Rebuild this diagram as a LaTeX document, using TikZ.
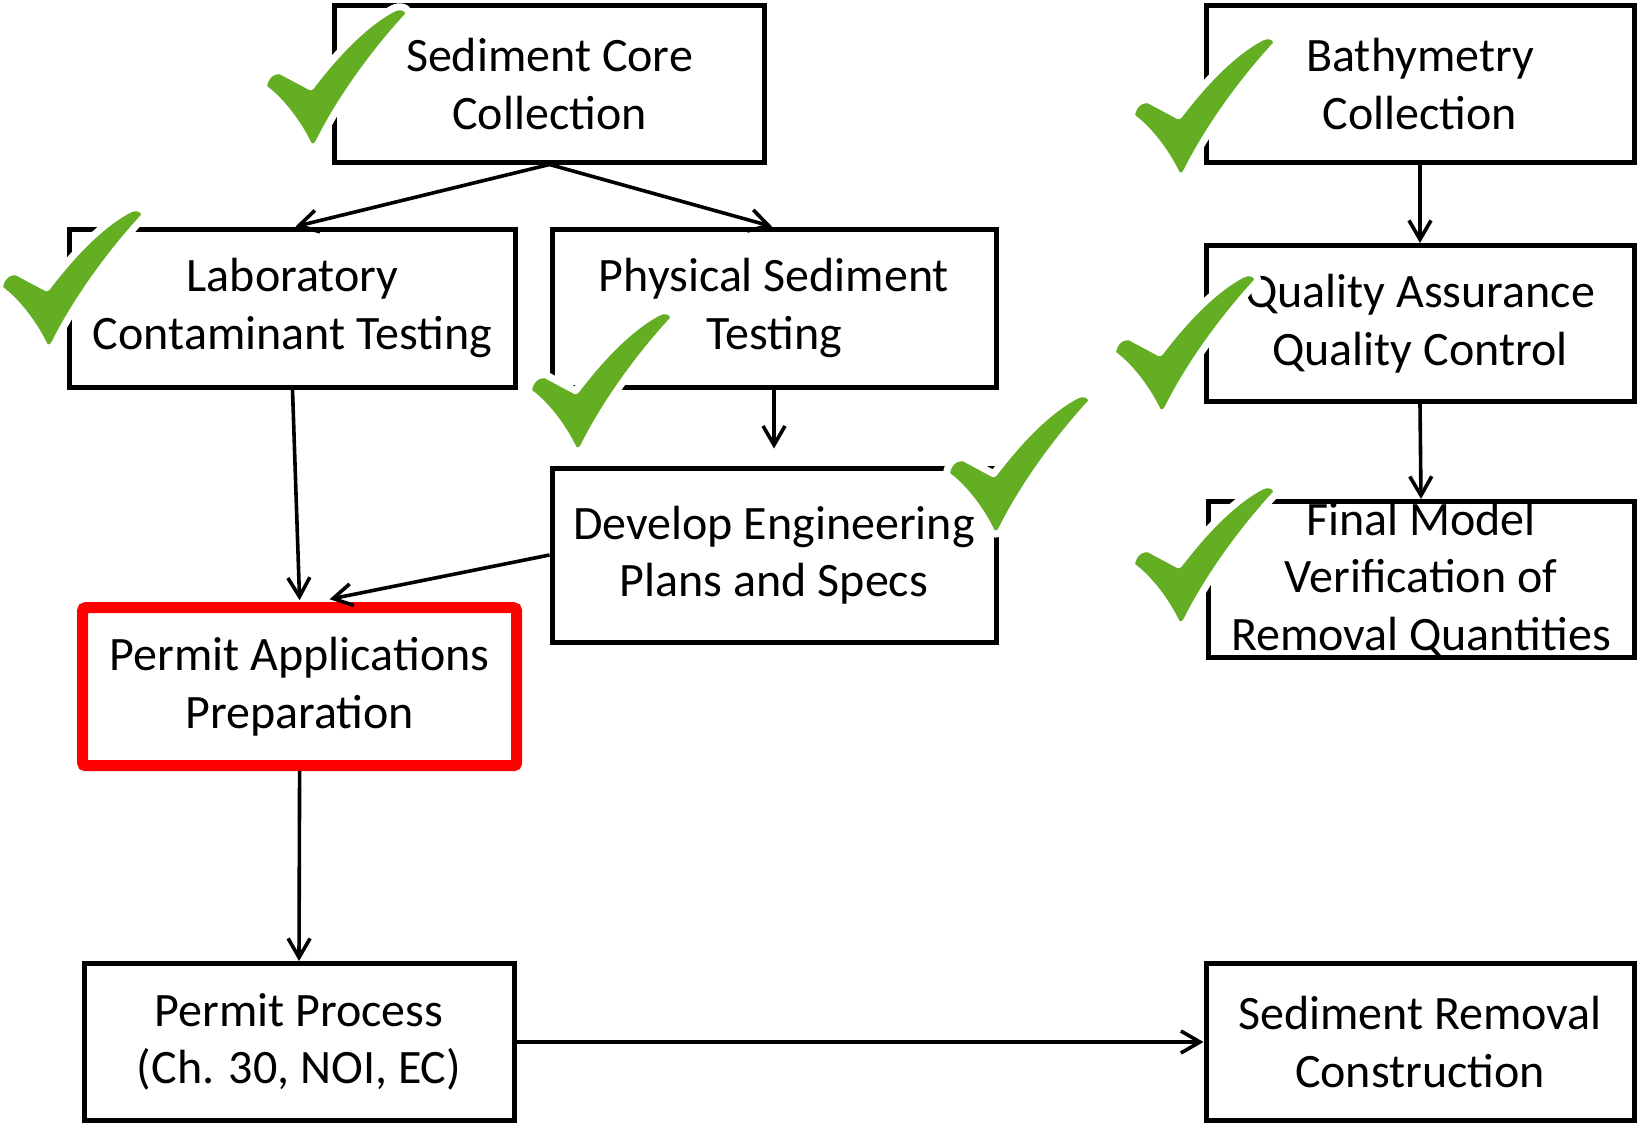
\documentclass[tikz,border=0pt]{standalone}
\usepackage{fontspec}
\setmainfont{Carlito}
\usetikzlibrary{arrows.meta}
\definecolor{chkgreen}{RGB}{99,174,35}
\definecolor{redbox}{RGB}{255,0,0}
\tikzset{
  box/.style={draw=black, line width=5pt, fill=white, inner sep=0pt, align=center,
    font=\fontsize{48}{57.5}\selectfont},
  redb/.style={box, draw=redbox, line width=11pt, rounded corners=3pt},
  conn/.style={line width=3.6pt, -{Straight Barb[length=19pt,width=22pt,line width=3.6pt]}},
  chk/.pic={
    \path[draw=white, line width=7pt, line join=round, fill=chkgreen]
      (0,76) .. controls (2,68) and (8,63) .. (16,64)
      -- (44,79)
      .. controls (70,45) and (95,20) .. (120,6)
      .. controls (128,1) and (138,4) .. (136,12)
      .. controls (110,40) and (75,85) .. (52,131)
      .. controls (50,137) and (43,138) .. (41,132)
      .. controls (30,110) and (15,92) .. (2,82)
      .. controls (-1,80) and (-1,78) .. (0,76) -- cycle;
  },
  chks/.style={scale=1.06}
}
\begin{document}
\begin{tikzpicture}[x=1pt, y=-1pt]
\useasboundingbox[fill=white] (0,0) rectangle (1639,1124);
% boxes
\node[box, minimum width=430pt, minimum height=156pt] (sc) at (549.5,84) {Sediment Core\\Collection};
\node[box, minimum width=428pt, minimum height=156pt] (bath) at (1420,84) {Bathymetry\\Collection};
\node[box, minimum width=446pt, minimum height=158pt] (lab) at (292.5,308) {Laboratory\\Contaminant Testing};
\node[box, minimum width=444pt, minimum height=158pt] (phys) at (774,308) {Physical Sediment\\Testing};
\node[box, minimum width=428pt, minimum height=156pt] (qa) at (1420,323.5) {Quality Assurance\\Quality Control};
\node[box, minimum width=444pt, minimum height=174pt] (dev) at (774,555) {Develop Engineering\\Plans and Specs};
\node[box, minimum width=426pt, minimum height=156pt] (final) at (1421,579.5) {Final Model\\Verification of\\Removal Quantities};
\node[redb, minimum width=434pt, minimum height=158pt] (papp) at (299.6,686.7) {Permit Applications\\Preparation};
\node[box, minimum width=430pt, minimum height=157pt] (pproc) at (299,1042) {Permit Process\\(Ch. 30, NOI, EC)};
\node[box, minimum width=428pt, minimum height=157pt] (srem) at (1420,1042) {Sediment Removal\\Construction};
% connectors
\draw[conn] (sc.south) -- ([xshift=3pt]lab.north);
\draw[conn] (sc.south) -- ([xshift=-2pt]phys.north);
\draw[conn] (phys.south) -- ([yshift=17pt]dev.north);
\draw[conn] (lab.south) -- ([yshift=2pt]papp.north);
\draw[conn] (dev.west) -- ([xshift=30pt,yshift=3pt]papp.north);
\draw[conn] (bath.south) -- (qa.north);
\draw[conn] (qa.south) -- (final.north);
\draw[conn] (papp.south) -- (pproc.north);
\draw[conn] (pproc.east) -- (srem.west);
% check marks
\pic[chks] at (264,3) {chk};
\pic[chks] at (0,204) {chk};
\pic[chks] at (1132,32) {chk};
\pic[chks] at (529,307) {chk};
\pic[chks] at (947,390) {chk};
\pic[chks] at (1113,269) {chk};
\pic[chks] at (1132,481) {chk};
\end{tikzpicture}
\end{document}
